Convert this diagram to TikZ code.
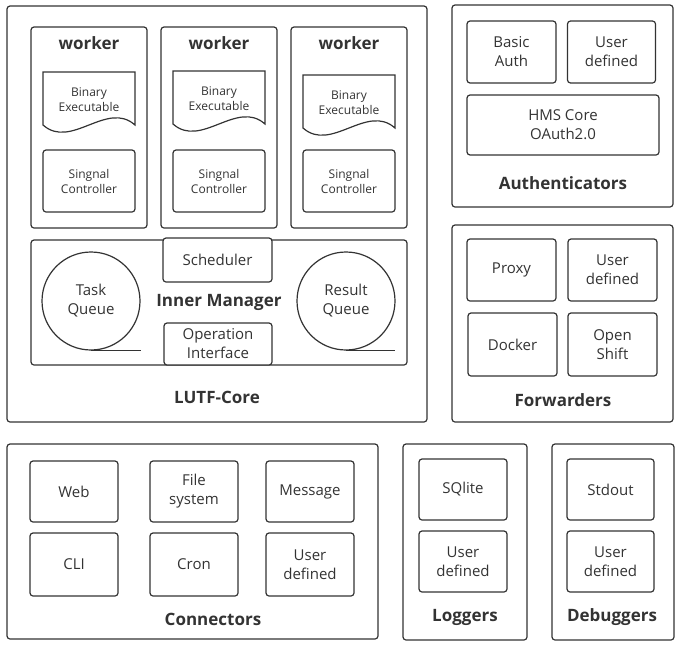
\documentclass[tikz,border=0pt]{standalone}
\usepackage{fontspec}
\setmainfont{Open Sans}
\usetikzlibrary{
	calc,
	positioning,
	shapes.geometric,
}
\definecolor{ln}{HTML}{333333}
\definecolor{txt}{HTML}{333333}

\begin{document}
\begin{tikzpicture}[
    x=1pt, y=-1pt,
    line width=1.2pt,
    every node/.style={text=txt, align=center, font=\fontsize{15}{19}\selectfont},
    box/.style={draw=ln, rounded corners=3pt, inner sep=0pt},
    cell/.style={box, minimum width=88, minimum height=62},
    title/.style={font=\bfseries\fontsize{17}{20}\selectfont},
    small/.style={font=\fontsize{12}{15}\selectfont},
    queue/.style={draw=ln, circle, minimum size=98, inner sep=0pt},
]
\useasboundingbox (0,0) rectangle (681,646);

% LUTF-Core
\node[box, minimum width=420, minimum height=416] (core) at (217,214) {};
\node[title] (coret) at (217,397) {LUTF-Core};
\foreach \i/\cx/\dy in {1/89/0, 2/219/-1, 3/349/3}{
    \node[box, minimum width=116, minimum height=201] (w\i) at (\cx,127.5) {};
    \node[title] (wt\i) at (\cx,43) {worker};
    \draw[ln] (\cx-46,125+\dy) -- (\cx-46,72+\dy) -- (\cx+46,72+\dy) -- (\cx+46,125+\dy)
        .. controls (\cx+18,100+\dy) and (\cx-18,150+\dy) .. (\cx-46,125+\dy) -- cycle;
    \node[small] (bin\i) at (\cx,99.5+\dy) {Binary\\Executable};
    \node[box, small, minimum width=92, minimum height=62] (sig\i) at (\cx,181) {Singnal\\Controller};
}
\node[box, minimum width=376, minimum height=125] (inner) at (219,302.5) {};
\node[title] (innert) at (219,302) {Inner Manager};
\node[box, fill=white, minimum width=109, minimum height=44] (sched) at (217.5,260) {Scheduler};
\node[box, fill=white, minimum width=108, minimum height=42] (opif) at (218,344) {Operation\\Interface};
\node[queue] (tq) at (91,301) {Task\\Queue};
\node[queue] (rq) at (346,301) {Result\\Queue};
\draw[ln] (tq.south) -- ++(50,0);
\draw[ln] (rq.south) -- ++(49,0);

% Authenticators
\node[box, minimum width=221, minimum height=202] (auth) at (562.5,106) {};
\node[title] (autht) at (563,183) {Authenticators};
\node[cell, minimum width=89] (basic) at (511.5,52) {Basic\\Auth};
\node[cell] (authud) at (611.5,52) {User\\defined};
\node[box, minimum width=192, minimum height=60] (hms) at (563,125) {HMS Core\\OAuth2.0};

% Forwarders
\node[box, minimum width=221, minimum height=197] (fwd) at (562.5,323.5) {};
\node[title] (fwdt) at (563,400) {Forwarders};
\node[cell, minimum width=89] (proxy) at (511.5,270) {Proxy};
\node[cell, minimum width=89] (fwdud) at (612.5,270) {User\\defined};
\node[cell, minimum width=89, minimum height=63] (docker) at (512.5,344.5) {Docker};
\node[cell, minimum width=89, minimum height=63] (oshift) at (612.5,344.5) {Open\\Shift};

% Connectors
\node[box, minimum width=371, minimum height=195] (conn) at (192.5,541.5) {};
\node[title] (connt) at (213,619) {Connectors};
\node[cell, minimum height=61] (web) at (74,491.5) {Web};
\node[cell, minimum height=61] (fs) at (194,491.5) {File\\system};
\node[cell, minimum height=61] (msg) at (310,491.5) {Message};
\node[cell, minimum height=63] (cli) at (74,564.5) {CLI};
\node[cell, minimum height=63] (cron) at (194,564.5) {Cron};
\node[cell, minimum height=63] (connud) at (310,564.5) {User\\defined};

% Loggers
\node[box, minimum width=124, minimum height=196] (log) at (465,542) {};
\node[title] (logt) at (465,617) {Loggers};
\node[cell, minimum height=61] (sqlite) at (463,489.5) {SQlite};
\node[cell, minimum height=61] (logud) at (463,561.5) {User\\defined};

% Debuggers
\node[box, minimum width=122, minimum height=196] (dbg) at (613,542) {};
\node[title] (dbgt) at (612,617) {Debuggers};
\node[cell, minimum width=87, minimum height=61] (stdout) at (610.5,489.5) {Stdout};
\node[cell, minimum width=87, minimum height=61] (dbgud) at (610.5,561.5) {User\\defined};
\end{tikzpicture}
\end{document}
